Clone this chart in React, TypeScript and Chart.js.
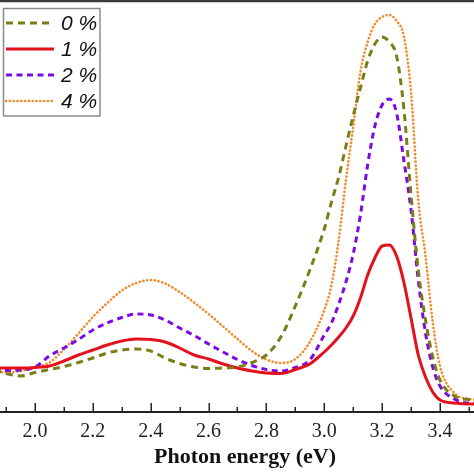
import { useEffect, useRef } from 'react';
import { Chart, registerables } from 'chart.js';

Chart.register(...registerables);

// Photon energy (eV) sample positions shared by all series
const energy = [
  1.86, 1.9, 1.95, 2.0, 2.05, 2.1, 2.15, 2.2, 2.25, 2.3, 2.35, 2.4, 2.45, 2.5, 2.55, 2.6,
  2.65, 2.7, 2.75, 2.8, 2.85, 2.9, 2.95, 3.0, 3.025, 3.05, 3.075, 3.1, 3.125, 3.15, 3.175,
  3.2, 3.225, 3.25, 3.275, 3.3, 3.325, 3.35, 3.375, 3.4, 3.45, 3.5, 3.55,
];

// Absorbance-like values (arbitrary units)
const pct0 = [
  0.42, 0.385, 0.36, 0.395, 0.425, 0.455, 0.495, 0.54, 0.59, 0.62, 0.63, 0.61, 0.54, 0.485, 0.45, 0.435,
  0.44, 0.45, 0.495, 0.57, 0.75, 1.06, 1.42, 1.83, 2.1, 2.35, 2.66, 2.96, 3.24, 3.51, 3.68,
  3.75, 3.7, 3.56, 3.04, 2.17, 1.42, 0.92, 0.55, 0.32, 0.16, 0.125, 0.12,
];
const pct1 = [
  0.44, 0.44, 0.44, 0.445, 0.46, 0.51, 0.57, 0.62, 0.67, 0.71, 0.73, 0.725, 0.7, 0.64, 0.57, 0.53,
  0.48, 0.44, 0.41, 0.39, 0.385, 0.425, 0.48, 0.6, 0.67, 0.75, 0.84, 0.96, 1.14, 1.37, 1.54,
  1.66, 1.67, 1.56, 1.3, 0.94, 0.57, 0.35, 0.2, 0.12, 0.09, 0.08, 0.08,
];
const pct2 = [
  0.43, 0.415, 0.42, 0.45, 0.56, 0.64, 0.725, 0.82, 0.89, 0.945, 0.98, 0.97, 0.92, 0.84, 0.765, 0.68,
  0.6, 0.525, 0.465, 0.425, 0.41, 0.445, 0.52, 0.77, 0.89, 1.08, 1.3, 1.58, 1.97, 2.47, 2.86,
  3.07, 3.13, 2.99, 2.52, 2.02, 1.32, 0.79, 0.45, 0.26, 0.13, 0.09, 0.09,
];
const pct4 = [
  0.41, 0.395, 0.41, 0.445, 0.495, 0.625, 0.785, 0.95, 1.09, 1.215, 1.29, 1.32, 1.285, 1.2, 1.095, 0.98,
  0.855, 0.73, 0.61, 0.525, 0.49, 0.53, 0.7, 1.02, 1.27, 1.72, 2.32, 2.85, 3.4, 3.7, 3.88,
  3.95, 3.97, 3.91, 3.76, 3.2, 2.12, 1.56, 0.9, 0.46, 0.19, 0.13, 0.12,
];

const seriesLabels = ['0 %', '1 %', '2 %', '4 %'];
const majorTicks = [2.0, 2.2, 2.4, 2.6, 2.8, 3.0, 3.2, 3.4];
const minorTicks = [1.9, 2.1, 2.3, 2.5, 2.7, 2.9, 3.1, 3.3, 3.5];
const xTitle = 'Photon energy (eV)';

const X_MIN = 1.879;
const X_MAX = 3.573;
const Y_MIN = 0;
const Y_MAX = 4.11;

const frameAndTicks = {
  id: 'frameAndTicks',
  afterDatasetsDraw(chart: any) {
    const { ctx, chartArea } = chart;
    const xs = chart.scales.x;
    ctx.save();
    ctx.strokeStyle = '#3a3a3a';
    ctx.lineWidth = 2.5;
    ctx.beginPath();
    ctx.moveTo(chartArea.left, chartArea.top);
    ctx.lineTo(chartArea.right, chartArea.top);
    ctx.stroke();
    ctx.strokeStyle = '#222';
    ctx.lineWidth = 1.5;
    const b = chartArea.bottom;
    majorTicks.forEach((v) => {
      const px = Math.round(xs.getPixelForValue(v)) + 0.25;
      ctx.beginPath();
      ctx.moveTo(px, b);
      ctx.lineTo(px, b - 9);
      ctx.stroke();
    });
    minorTicks.forEach((v) => {
      const px = Math.round(xs.getPixelForValue(v)) + 0.25;
      ctx.beginPath();
      ctx.moveTo(px, b);
      ctx.lineTo(px, b - 5);
      ctx.stroke();
    });
    ctx.restore();
  },
};

const boxLegend = {
  id: 'boxLegend',
  afterDraw(chart: any) {
    const { ctx } = chart;
    ctx.save();
    ctx.fillStyle = '#fff';
    ctx.fillRect(3, 8, 97, 108);
    ctx.strokeStyle = '#8c8c8c';
    ctx.lineWidth = 1.5;
    ctx.strokeRect(3.5, 8.5, 96.5, 107.5);
    chart.data.datasets.forEach((ds: any, i: number) => {
      const y = 23 + i * 26;
      ctx.strokeStyle = ds.borderColor;
      ctx.lineWidth = ds.borderWidth;
      ctx.lineCap = ds.borderCapStyle || 'butt';
      ctx.setLineDash(ds.borderDash || []);
      ctx.beginPath();
      ctx.moveTo(6, y);
      ctx.lineTo(54, y);
      ctx.stroke();
      ctx.setLineDash([]);
      ctx.fillStyle = '#111';
      ctx.font = 'italic 21px "Liberation Sans", Arial, sans-serif';
      ctx.textBaseline = 'middle';
      ctx.textAlign = 'left';
      ctx.fillText(ds.label, 61, y + 1);
    });
    ctx.restore();
  },
};

function toPoints(vals: number[]) {
  return energy.map((e, i) => ({ x: e, y: vals[i] }));
}

export default function App() {
  const ref = useRef<HTMLCanvasElement | null>(null);

  useEffect(() => {
    if (!ref.current) return;
    const chart = new Chart(ref.current, {
      type: 'line',
      data: {
        datasets: [
          {
            label: seriesLabels[0],
            data: toPoints(pct0),
            borderColor: '#7b7d16',
            borderWidth: 3,
            borderDash: [7, 5],
          },
          {
            label: seriesLabels[1],
            data: toPoints(pct1),
            borderColor: '#e3111b',
            borderWidth: 3,
          },
          {
            label: seriesLabels[2],
            data: toPoints(pct2),
            borderColor: '#7a0ae6',
            borderWidth: 3,
            borderDash: [6, 4.5],
          },
          {
            label: seriesLabels[3],
            data: toPoints(pct4),
            borderColor: '#ef8e2c',
            borderWidth: 2.6,
            borderDash: [0.2, 3.6],
            borderCapStyle: 'round',
          },
        ] as any,
      },
      options: {
        responsive: false,
        animation: false,
        devicePixelRatio: 1,
        layout: { padding: { top: 1, left: 0, right: 0, bottom: 0 } },
        elements: {
          point: { radius: 0 },
          line: { cubicInterpolationMode: 'monotone', fill: false },
        },
        plugins: {
          legend: { display: false },
          tooltip: { enabled: false },
        },
        scales: {
          x: {
            type: 'linear',
            min: X_MIN,
            max: X_MAX,
            afterBuildTicks: (scale: any) => {
              scale.ticks = majorTicks.map((v) => ({ value: v }));
            },
            grid: { display: true, drawOnChartArea: false, drawTicks: false },
            border: { display: true, color: '#222', width: 2 },
            ticks: {
              autoSkip: false,
              maxRotation: 0,
              padding: 8,
              color: '#222',
              font: { family: '"Liberation Serif", "Times New Roman", serif', size: 20 },
              callback: (v: any) => Number(v).toFixed(1),
            },
            title: {
              display: true,
              text: xTitle,
              color: '#111',
              padding: { top: -6, bottom: 6 },
              font: { family: '"Liberation Serif", "Times New Roman", serif', size: 22, weight: 'bold', lineHeight: 1.0 },
            },
          },
          y: {
            type: 'linear',
            display: false,
            min: Y_MIN,
            max: Y_MAX,
          },
        },
      } as any,
      plugins: [frameAndTicks, boxLegend],
    });
    return () => chart.destroy();
  }, []);

  return (
    <div
      style={{
        position: 'fixed',
        left: 0,
        top: 0,
        width: 474,
        height: 474,
        overflow: 'hidden',
        background: '#fff',
      }}
    >
      <canvas ref={ref} width={490} height={474} style={{ display: 'block', width: 490, height: 474 }} />
    </div>
  );
}
